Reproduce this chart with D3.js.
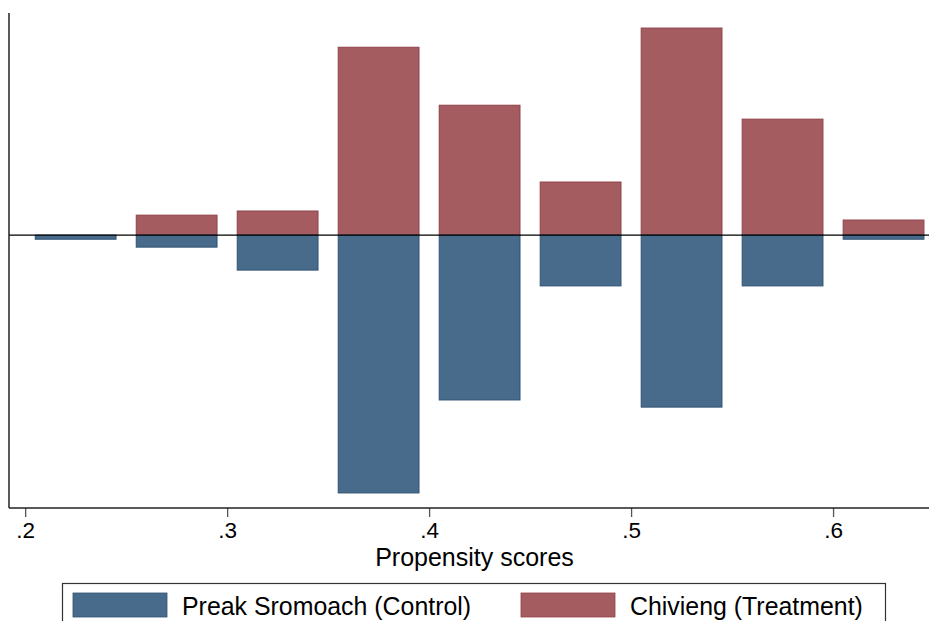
<!DOCTYPE html>
<html>
<head>
<meta charset="utf-8">
<script src="https://cdn.jsdelivr.net/npm/d3@7"></script>
<style>
  body { margin: 0; background: #fff; }
  text { font-family: "Liberation Sans", Arial, sans-serif; fill: #000; }
</style>
</head>
<body>
<div id="chart"></div>
<script>
// bin centres of the propensity score histogram (bin width .05)
var binCenters = [0.225, 0.275, 0.325, 0.375, 0.425, 0.475, 0.525, 0.575, 0.625];
// densities, treatment drawn above zero, control below
var treatment = [0, 0.53, 0.64, 4.99, 3.45, 1.41, 5.50, 3.08, 0.40];
var control = [0.11, 0.32, 0.93, 6.85, 4.38, 1.35, 4.57, 1.35, 0.11];
var xTicks = [0.2, 0.3, 0.4, 0.5, 0.6];
var seriesNames = ["Preak Sromoach (Control)", "Chivieng (Treatment)"];

var colControl = "#486b8b";
var colTreat = "#a45c61";

var svgWidth = 929;
var svgHeight = 621;

var svg = d3.select("#chart")
  .append("svg")
  .attr("width", svgWidth)
  .attr("height", svgHeight);

// scales
var xScale = d3.scaleLinear()
  .domain([0.192, 0.6475])
  .range([9, 929]);

var yScale = d3.scaleLinear()
  .domain([-7.25, 5.9])
  .range([508, 13]);

var barW = xScale(0.04) - xScale(0);

// treatment bars (up)
svg.selectAll(".treat")
  .data(treatment)
  .enter()
  .append("rect")
  .attr("class", "treat")
  .attr("x", (d, i) => xScale(binCenters[i]) - barW / 2)
  .attr("y", d => yScale(d))
  .attr("width", barW)
  .attr("height", d => yScale(0) - yScale(d))
  .attr("fill", colTreat)
  .attr("stroke", d => d > 0 ? "#8f4249" : "none")
  .attr("stroke-width", 1);

// control bars (down)
svg.selectAll(".ctrl")
  .data(control)
  .enter()
  .append("rect")
  .attr("class", "ctrl")
  .attr("x", (d, i) => xScale(binCenters[i]) - barW / 2)
  .attr("y", yScale(0))
  .attr("width", barW)
  .attr("height", d => yScale(-d) - yScale(0))
  .attr("fill", colControl)
  .attr("stroke", "#2f5373")
  .attr("stroke-width", 1);

// zero line
svg.append("line")
  .attr("x1", 9).attr("x2", 929)
  .attr("y1", yScale(0)).attr("y2", yScale(0))
  .attr("stroke", "#000")
  .attr("stroke-width", 1.3);

// y axis line, no ticks
svg.append("line")
  .attr("x1", 9).attr("x2", 9)
  .attr("y1", 13).attr("y2", 508)
  .attr("stroke", "#222")
  .attr("stroke-width", 1.5);

// x axis
var xAxis = d3.axisBottom(xScale)
  .tickValues(xTicks)
  .tickSize(9)
  .tickPadding(5)
  .tickFormat(d => d3.format(".1f")(d).replace(/^0/, ""));

var gx = svg.append("g")
  .attr("transform", "translate(0,508)")
  .call(xAxis);
gx.select(".domain").remove();
gx.append("line")
  .attr("x1", 9).attr("x2", 929)
  .attr("y1", 0).attr("y2", 0)
  .attr("stroke", "#222")
  .attr("stroke-width", 1.5);
gx.selectAll(".tick line").attr("stroke", "#555").attr("stroke-width", 1.3);
gx.selectAll(".tick text")
  .attr("font-size", "22.5px")
  .attr("fill", "#000")
  .style("font-family", "Liberation Sans, Arial, sans-serif");

// axis title
svg.append("text")
  .attr("x", 474.5)
  .attr("y", 566)
  .attr("text-anchor", "middle")
  .attr("font-size", "25px")
  .text("Propensity scores");

// legend
var legend = svg.append("g");
legend.append("rect")
  .attr("x", 62.5).attr("y", 583.5)
  .attr("width", 823).attr("height", 60)
  .attr("fill", "#fff")
  .attr("stroke", "#333")
  .attr("stroke-width", 1.2);

var legendItems = [
  { name: seriesNames[0], color: colControl, stroke: "#2f5373", x: 73 },
  { name: seriesNames[1], color: colTreat, stroke: "#8f4249", x: 521 }
];
legendItems.forEach(function(it) {
  legend.append("rect")
    .attr("x", it.x).attr("y", 593)
    .attr("width", 94).attr("height", 24)
    .attr("fill", it.color)
    .attr("stroke", it.stroke)
    .attr("stroke-width", 0.8);
  legend.append("text")
    .attr("x", it.x + 109)
    .attr("y", 615)
    .attr("font-size", "24.9px")
    .text(it.name);
});
</script>
</body>
</html>
